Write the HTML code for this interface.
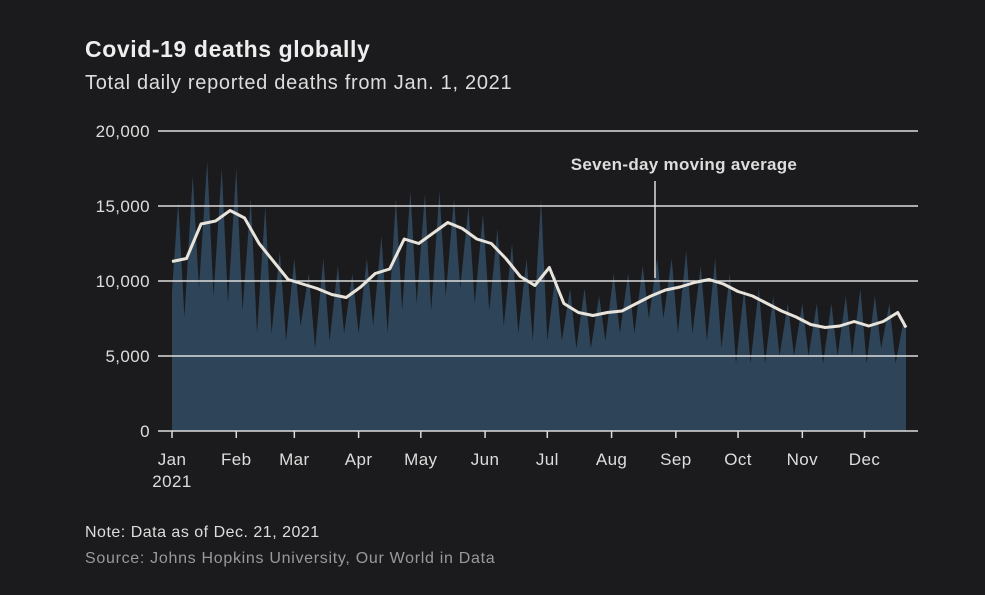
<!DOCTYPE html>
<html><head><meta charset="utf-8"><style>
body{margin:0;background:#1b1b1d;width:985px;height:595px;overflow:hidden;font-family:"Liberation Sans",sans-serif;}
.t{position:absolute;color:#e6e6e6;white-space:nowrap}
</style></head><body>
<div class="t" style="left:85px;top:36px;font-size:23px;font-weight:bold;color:#eee;letter-spacing:0.6px">Covid-19 deaths globally</div>
<div class="t" style="left:85px;top:72px;font-size:20px;color:#ddd;letter-spacing:0.7px">Total daily reported deaths from Jan. 1, 2021</div>
<svg id="c" width="985" height="595" style="position:absolute;left:0;top:0"></svg>
<div class="t" style="left:85px;top:524px;font-size:16px;color:#ddd;letter-spacing:0.5px">Note: Data as of Dec. 21, 2021</div>
<div class="t" style="left:85px;top:550px;font-size:16px;color:#999;letter-spacing:0.7px">Source: Johns Hopkins University, Our World in Data</div>
<script>
const maAvg=[11.3,11.5,13.8,14.0,14.7,14.2,12.5,11.3,10.1,9.8,9.5,9.1,8.9,9.6,10.5,10.8,12.8,12.5,13.2,13.9,13.5,12.8,12.5,11.5,10.3,9.7,10.9,8.5,7.9,7.7,7.9,8.0,8.5,9.0,9.4,9.6,9.9,10.1,9.8,9.3,9.0,8.5,8.0,7.6,7.1,6.9,7.0,7.3,7.0,7.3,7.9,6.9];
const peaks=[15.3,17.0,18.0,17.5,17.5,15.5,15.0,12.0,11.5,10.5,11.5,11.0,10.5,11.5,13.0,15.5,16.0,15.8,16.0,15.5,15.0,14.5,13.5,12.5,11.5,15.5,10.5,9.5,9.5,9.0,10.5,10.5,11.0,11.5,11.5,12.0,11.0,11.5,10.5,9.5,9.5,9.0,8.5,8.5,8.5,8.5,9.0,9.5,9.0,8.5,7.5];
const troughs=[7.6,9.5,9.0,8.5,8.0,6.5,6.5,6.0,7.0,5.5,6.0,6.5,6.5,7.0,6.5,8.0,8.5,8.0,9.0,9.5,8.5,8.0,7.0,6.5,6.0,6.0,6.0,5.5,5.5,6.0,6.5,6.5,7.5,7.5,6.5,6.5,6.0,5.5,4.5,4.5,4.5,5.0,5.0,5.0,4.5,5.0,5.0,4.5,5.5,4.5,4.5];
const yTicks=[0,5000,10000,15000,20000];
const months=["Jan","Feb","Mar","Apr","May","Jun","Jul","Aug","Sep","Oct","Nov","Dec"];
const monthDays=[0,31,59,90,120,151,181,212,243,273,304,334];
const lastDay=354;
const NS="http://www.w3.org/2000/svg",svg=document.getElementById('c');
const x=d=>172+d*(906-172)/354, y=v=>431-v*300/20000;
function mk(t,a){const e=document.createElementNS(NS,t);for(const k in a)e.setAttribute(k,a[k]);svg.appendChild(e);return e;}
let pts=[[0,9300]];
for(let k=0;k<peaks.length;k++){
  const dp=7*k+3,dt=7*k+6;
  if(dp<=lastDay)pts.push([dp,peaks[k]*1000]);
  if(dt<=lastDay)pts.push([dt,troughs[k]*1000]);
}
pts.push([lastDay,7000]);
let d="M"+x(0)+","+y(0);pts.forEach(p=>d+="L"+x(p[0])+","+y(p[1]));d+="L"+x(lastDay)+","+y(0)+"Z";
const ar=mk('path',{d:d,fill:'#2e4559'});


yTicks.forEach(v=>{
  if(v>0){const g=mk('line',{x1:158,x2:918,y1:y(v),y2:y(v),stroke:'#ddd','stroke-width':1.5});
  
  }
  const t=mk('text',{x:150,y:y(v)+6,'text-anchor':'end',fill:'#ddd','font-size':17,'font-family':'Liberation Sans','letter-spacing':0.4});
  t.textContent=v.toLocaleString('en-US');
  
  
});
const ax=mk('line',{x1:158,x2:918,y1:431,y2:431,stroke:'#ddd','stroke-width':1.5});


months.forEach((m,i)=>{
  const xx=x(monthDays[i]);
  const tk=mk('line',{x1:xx,x2:xx,y1:431,y2:438,stroke:'#ddd','stroke-width':1.5});
  
  
  const t=mk('text',{x:xx,y:465,'text-anchor':'middle',fill:'#ddd','font-size':17,'font-family':'Liberation Sans','letter-spacing':0.4});
  t.textContent=m;
  
  
});
const yr=mk('text',{x:x(0),y:487,'text-anchor':'middle',fill:'#ddd','font-size':17,'font-family':'Liberation Sans','letter-spacing':0.4});
yr.textContent="2021";


let ld="";maAvg.forEach((v,i)=>{const dd=Math.min(i*7,lastDay);ld+=(i?"L":"M")+x(dd)+","+y(v*1000);});
const ln=mk('path',{d:ld,fill:'none',stroke:'#e8e4dc','stroke-width':3,'stroke-linejoin':'round'});


const al=mk('line',{x1:655,x2:655,y1:181,y2:278,stroke:'#ddd','stroke-width':1.5});


const at=mk('text',{x:684,y:170,'text-anchor':'middle',fill:'#ddd','font-size':17,'font-weight':'bold','font-family':'Liberation Sans','letter-spacing':0.3});
at.textContent="Seven-day moving average";


</script>
</body></html>
